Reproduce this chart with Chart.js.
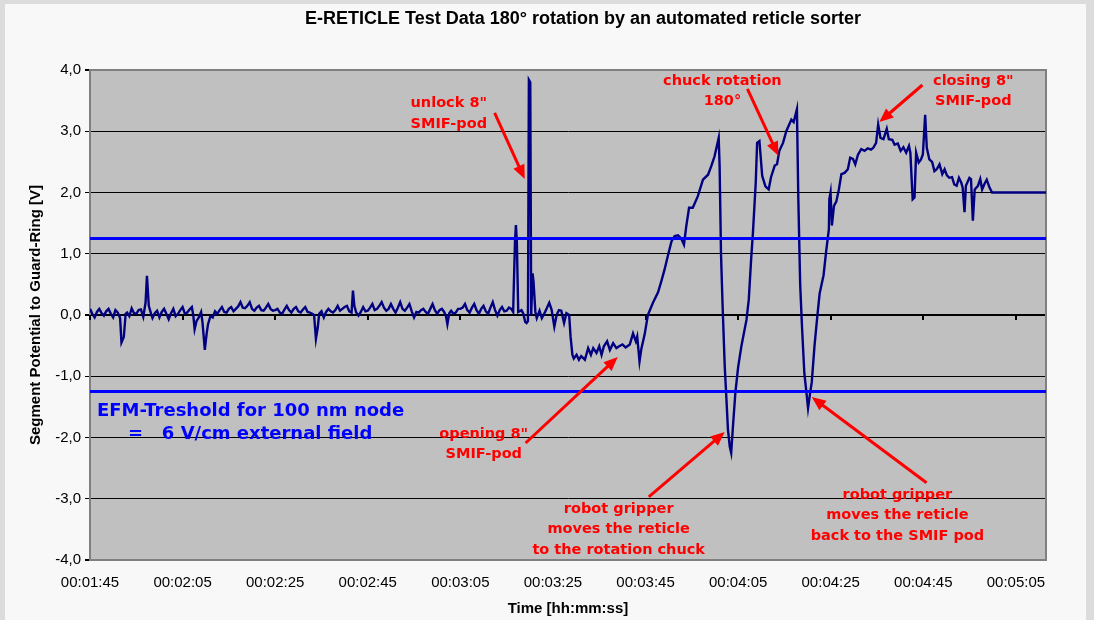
<!DOCTYPE html>
<html><head><meta charset="utf-8">
<script src="https://cdn.jsdelivr.net/npm/chart.js@4.4.1/dist/chart.umd.min.js"></script>
<style>
html,body{margin:0;padding:0;background:#dcdcdc;overflow:hidden;}
#panel{position:absolute;left:5px;top:4px;width:1081px;height:616px;background:#f8f8f8;}
#wrap{position:absolute;left:0;top:0;width:1094px;height:620px;}
</style></head><body>
<div id="panel"></div>
<div id="wrap"><canvas id="c" width="1094" height="620"></canvas></div>
<script>
// ---- data (time in seconds since 00:00:00, potential in V) ----
const timesSec = [
105.0,105.5,106.0,106.5,107.0,107.5,108.0,108.5,109.0,109.5,110.0,110.5,111.0,111.5,111.8,112.3,112.7,113.0,113.5,114.0,
114.5,115.0,115.5,116.0,116.5,117.0,117.3,117.7,118.2,118.5,119.0,119.5,120.0,120.5,121.0,121.5,122.0,122.5,123.0,123.5,
124.0,124.5,125.0,125.5,126.0,126.5,127.0,127.3,127.6,128.0,128.5,129.0,129.3,129.8,130.2,130.5,131.0,131.5,132.0,132.5,
133.0,133.5,134.0,134.5,135.0,135.5,136.0,136.5,137.0,137.5,138.0,138.5,139.0,139.5,140.0,140.5,141.0,141.5,142.0,142.5,
143.0,143.5,144.0,144.5,145.0,145.5,146.0,146.5,147.0,147.5,148.0,148.5,149.0,149.5,150.0,150.5,151.0,151.5,152.0,152.5,
153.0,153.4,153.8,154.2,154.5,155.0,155.5,156.0,156.5,157.0,157.5,158.0,158.5,159.0,159.5,160.0,160.5,161.0,161.5,161.8,
162.1,162.5,163.0,163.5,164.0,164.5,165.0,165.5,166.0,166.5,167.0,167.5,168.0,168.5,169.0,169.5,170.0,170.5,171.0,171.5,
172.0,172.5,173.0,173.5,174.0,174.5,175.0,175.5,176.0,176.5,177.0,177.5,178.0,178.5,179.0,179.5,180.0,180.5,181.0,181.5,
181.9,182.2,182.6,183.0,183.5,184.0,184.5,185.0,185.5,186.0,186.5,187.0,187.5,188.0,188.5,189.0,189.5,190.0,190.5,191.0,
191.5,192.0,192.5,193.0,193.5,194.0,194.5,195.0,195.5,196.0,196.4,196.8,197.0,197.2,197.5,198.2,198.6,199.0,199.3,199.6,
199.8,200.1,200.3,200.6,200.8,201.2,201.5,202.1,202.6,203.3,204.2,204.7,205.3,205.8,206.3,206.8,207.4,207.9,208.5,208.8,
209.2,209.5,210.1,210.6,211.1,211.9,212.6,213.2,213.7,214.4,215.0,215.5,216.0,216.7,217.3,218.0,218.7,219.3,220.0,220.7,
221.6,222.3,222.9,223.2,223.7,224.1,224.8,225.5,226.6,227.7,228.4,229.1,229.8,230.6,231.3,232.0,232.7,233.3,233.8,234.4,
235.2,236.3,237.4,238.5,239.2,239.9,240.8,241.0,241.3,241.6,242.1,242.4,242.8,243.2,243.5,243.9,244.4,245.0,245.7,246.8,
247.3,247.8,248.2,248.8,249.1,249.6,250.2,250.9,251.6,252.1,252.9,253.4,253.9,254.7,255.4,256.5,257.0,257.7,258.0,258.4,
258.8,259.3,259.8,260.1,260.5,260.9,261.5,262.0,262.6,263.45,264.0,264.6,264.7,264.96,265.25,265.7,266.2,266.76,267.3,268.0,
268.7,269.2,269.8,270.3,270.9,271.6,272.3,273.0,273.7,274.2,274.8,275.25,275.75,276.4,277.1,277.55,278.3,278.8,279.5,280.1,
280.7,281.3,281.9,282.2,282.7,283.1,283.45,284.0,284.5,284.9,285.4,285.75,286.3,286.9,287.4,287.9,288.5,289.1,289.6,290.1,
290.6,291.2,291.7,292.2,292.7,293.2,293.5,293.9,294.2,294.96,295.3,295.7,296.1,296.8,297.3,297.7,298.2,298.7,299.3,299.85,
305.0,311.5
];
const potentialV = [
0.10,0.02,-0.04,0.05,0.10,0.03,-0.01,0.06,0.10,0.02,-0.04,0.08,0.04,-0.05,-0.45,-0.36,0.02,0.04,-0.02,0.11,
0.03,0.02,0.08,0.09,-0.03,0.20,0.64,0.15,0.02,-0.05,0.03,0.07,-0.04,0.05,0.10,0.02,-0.07,0.03,0.10,-0.02,
0.02,0.08,0.13,0.02,0.04,0.09,0.13,0.00,-0.23,-0.10,-0.04,0.05,-0.12,-0.57,-0.30,-0.15,-0.02,-0.04,0.06,0.02,
0.08,0.13,0.05,0.04,0.10,0.13,0.06,0.10,0.14,0.21,0.12,0.11,0.15,0.21,0.10,0.07,0.12,0.15,0.08,0.07,
0.12,0.18,0.10,0.07,0.08,0.10,0.04,0.02,0.09,0.15,0.08,0.04,0.10,0.13,0.06,0.04,0.09,0.13,0.05,0.04,
0.02,0.00,-0.39,-0.20,0.02,0.06,-0.04,0.05,0.10,0.06,0.04,0.08,0.15,0.07,0.10,0.13,0.15,0.06,0.04,0.40,
0.15,0.04,-0.01,0.05,0.13,0.06,0.07,0.12,0.18,0.08,0.10,0.15,0.21,0.12,0.07,0.10,0.18,0.10,0.04,0.12,
0.21,0.10,0.07,0.12,0.18,0.06,-0.04,0.05,0.04,0.08,0.10,0.05,0.02,0.10,0.18,0.08,0.02,0.08,0.10,0.05,
-0.02,-0.15,0.03,0.07,0.02,0.04,0.10,0.10,0.12,0.18,0.08,0.04,0.12,0.18,0.08,0.02,0.10,0.15,0.06,0.02,
0.12,0.21,0.08,-0.01,0.08,0.13,0.06,0.07,0.12,0.10,0.05,1.20,1.47,1.20,0.05,0.08,0.02,-0.11,-0.13,-0.10,
3.84,3.80,0.00,0.68,0.55,0.05,-0.05,0.07,-0.05,0.05,0.20,0.09,-0.19,0.00,0.08,0.07,-0.13,0.03,0.00,-0.35,
-0.65,-0.71,-0.65,-0.73,-0.67,-0.73,-0.54,-0.65,-0.54,-0.62,-0.51,-0.65,-0.51,-0.43,-0.57,-0.46,-0.54,-0.51,-0.48,-0.53,
-0.48,-0.30,-0.43,-0.35,-0.76,-0.55,-0.32,0.00,0.20,0.37,0.55,0.74,0.96,1.20,1.29,1.30,1.25,1.15,1.45,1.75,
1.75,1.94,2.21,2.29,2.43,2.59,2.89,2.43,1.00,0.25,-0.83,-1.27,-1.87,-2.15,-2.25,-1.80,-1.27,-0.85,-0.51,-0.08,
0.25,0.90,1.35,2.16,2.81,2.84,2.27,2.10,2.05,2.25,2.44,2.46,2.68,2.81,3.00,3.19,3.15,3.36,1.90,0.50,
-0.20,-0.95,-1.30,-1.52,-1.30,-1.10,-0.50,-0.10,0.35,0.65,1.03,1.40,1.89,2.00,1.46,1.78,1.85,2.05,2.30,2.32,
2.38,2.57,2.55,2.46,2.62,2.71,2.68,2.72,2.70,2.73,2.81,3.11,2.89,2.87,3.04,2.87,2.86,2.78,2.80,2.68,
2.74,2.65,2.76,2.65,1.89,1.92,2.65,2.49,2.54,2.62,3.27,2.73,2.54,2.50,2.35,2.38,2.46,2.30,2.38,2.28,
2.24,2.25,2.13,2.11,2.24,2.16,2.08,1.68,2.11,2.24,2.22,1.54,2.05,2.11,2.22,2.05,2.14,2.21,2.08,2.00,
2.00,2.00
];
const thresholdV = [1.25, -1.25];
const xRangeSec = [105, 311.5];
const xTickSec = [105,125,145,165,185,205,225,245,265,285,305];
const xTickLabels = ['00:01:45','00:02:05','00:02:25','00:02:45','00:03:05','00:03:25','00:03:45','00:04:05','00:04:25','00:04:45','00:05:05'];
const yRange = [-4, 4];
const chartTitle = 'E-RETICLE Test Data 180° rotation by an automated reticle sorter';
const xTitle = 'Time [hh:mm:ss]';
const yTitle = 'Segment Potential to Guard-Ring [V]';
const thresholdNote = ['EFM-Treshold for 100 nm node', '=   6 V/cm external field'];
const thresholdNoteAt = [[106.5, -1.57], [113.2, -1.95]];
// annotation anchor points in data units (seconds, volts)
const notes = [
  {lines:['unlock 8"','SMIF-pod'], at:[182.5,3.45], from:[192.4,3.30], to:[198.9,2.22]},
  {lines:['chuck rotation','180°'], at:[241.6,3.82], from:[247.0,3.69], to:[253.7,2.60]},
  {lines:['closing 8"','SMIF-pod'], at:[295.8,3.82], from:[284.8,3.755], to:[275.5,3.15]},
  {lines:['opening 8"','SMIF-pod'], at:[190.05,-1.943], from:[199.1,-2.09], to:[219.0,-0.686]},
  {lines:['robot gripper','moves the reticle','to the rotation chuck'], at:[219.2,-3.167], from:[225.7,-2.97], to:[242.1,-1.91]},
  {lines:['robot gripper','moves the reticle','back to the SMIF pod'], at:[279.4,-2.94], from:[285.7,-2.74], to:[260.9,-1.34]}
];

const ARIAL = '"Liberation Sans", Arial, sans-serif';
const VERD = '"DejaVu Sans", Verdana, sans-serif';

const plotBg = {
  id:'plotBg',
  beforeDraw(chart){
    const {ctx, chartArea:a} = chart;
    ctx.save(); ctx.fillStyle = '#c0c0c0';
    ctx.fillRect(a.left, a.top, a.right-a.left, a.bottom-a.top);
    ctx.restore();
  }
};
const frame = {
  id:'frame',
  beforeDatasetsDraw(chart){
    const {ctx, chartArea:a, scales} = chart;
    ctx.save();
    ctx.strokeStyle = '#808080'; ctx.lineWidth = 2;
    ctx.strokeRect(a.left, a.top, a.right-a.left, a.bottom-a.top);
    const y0 = scales.y.getPixelForValue(0);
    ctx.strokeStyle = '#000'; ctx.lineWidth = 2;
    xTickSec.forEach(v => {
      const x = Math.round(scales.x.getPixelForValue(v));
      ctx.beginPath(); ctx.moveTo(x, y0); ctx.lineTo(x, y0+5); ctx.stroke();
    });
    ctx.restore();
  }
};
function arrow(ctx, x1, y1, x2, y2){
  const a = Math.atan2(y2-y1, x2-x1), hl = 14, hw = 6;
  const c = Math.cos(a), s = Math.sin(a);
  ctx.beginPath(); ctx.moveTo(x1, y1); ctx.lineTo(x2 - hl*0.8*c, y2 - hl*0.8*s); ctx.stroke();
  ctx.beginPath();
  ctx.moveTo(x2, y2);
  ctx.lineTo(x2 - hl*c + hw*s, y2 - hl*s - hw*c);
  ctx.lineTo(x2 - hl*c - hw*s, y2 - hl*s + hw*c);
  ctx.closePath(); ctx.fill();
}
const annot = {
  id:'annot',
  afterDatasetsDraw(chart){
    const {ctx, scales:{x, y}} = chart;
    ctx.save();
    ctx.fillStyle = '#ff0000'; ctx.strokeStyle = '#ff0000'; ctx.lineWidth = 3; ctx.lineCap = 'butt';
    notes.forEach(n => {
      arrow(ctx, x.getPixelForValue(n.from[0]), y.getPixelForValue(n.from[1]), x.getPixelForValue(n.to[0]), y.getPixelForValue(n.to[1]));
    });
    ctx.font = 'bold 14.5px ' + VERD; ctx.textAlign = 'center'; ctx.textBaseline = 'middle';
    notes.forEach(n => {
      const px = x.getPixelForValue(n.at[0]), py = y.getPixelForValue(n.at[1]);
      n.lines.forEach((t, i) => ctx.fillText(t, px, py + i*20.5));
    });
    ctx.fillStyle = '#0000ff'; ctx.font = 'bold 18px ' + VERD; ctx.textAlign = 'left';
    thresholdNote.forEach((t, i) => ctx.fillText(t, x.getPixelForValue(thresholdNoteAt[i][0]), y.getPixelForValue(thresholdNoteAt[i][1])));
    ctx.fillStyle = '#000'; ctx.font = 'bold 18px ' + ARIAL; ctx.textAlign = 'center';
    ctx.fillText(chartTitle, 583, 19);
    ctx.restore();
  }
};

new Chart(document.getElementById('c'), {
  type:'line',
  data:{
    datasets:[
      {data: xRangeSec.map(t => ({x:t, y:thresholdV[0]})), borderColor:'#0000ff', borderWidth:3, pointRadius:0, order:0},
      {data: xRangeSec.map(t => ({x:t, y:thresholdV[1]})), borderColor:'#0000ff', borderWidth:3, pointRadius:0, order:0},
      {data: timesSec.map((t,i) => ({x:t, y:potentialV[i]})), borderColor:'#000080', borderWidth:2.4, pointRadius:0, tension:0, order:1}
    ]
  },
  options:{
    responsive:false, animation:false, devicePixelRatio:1,
    layout:{padding:{top:70, right:48, left:0, bottom:0}},
    plugins:{legend:{display:false}, tooltip:{enabled:false}, title:{display:false}},
    scales:{
      x:{
        type:'linear', min:xRangeSec[0], max:xRangeSec[1],
        afterBuildTicks: s => { s.ticks = xTickSec.map(v => ({value:v})); },
        afterFit: s => { s.height = 60; s.paddingLeft = 0; s.paddingRight = 0; },
        grid:{display:false, drawTicks:false},
        border:{display:true, color:'#808080', width:2},
        ticks:{autoSkip:false, maxRotation:0, padding:14, color:'#000', font:{family:ARIAL, size:15},
          callback: v => { const i = xTickSec.indexOf(v); return i >= 0 ? xTickLabels[i] : ''; }},
        title:{display:true, text:xTitle, color:'#000', font:{family:ARIAL, size:15, weight:'bold'}, padding:{top:0, bottom:2}}
      },
      y:{
        min:yRange[0], max:yRange[1],
        afterFit: s => { s.width = 90; s.paddingTop = 0; s.paddingBottom = 0; },
        ticks:{stepSize:1, padding:4, color:'#000', font:{family:ARIAL, size:15},
          callback: v => Number(v).toFixed(1).replace('.', ',')},
        grid:{
          color: c => (c.tick && Math.abs(c.tick.value) === 4) ? '#808080' : '#000',
          lineWidth: c => (c.tick && (c.tick.value === 0 || Math.abs(c.tick.value) === 4)) ? 2 : 1,
          tickColor:'#000', tickLength:5, drawTicks:true
        },
        border:{color:'#808080', width:2},
        title:{display:true, text:yTitle, color:'#000', font:{family:ARIAL, size:15, weight:'bold'}, padding:{top:27, bottom:0}}
      }
    }
  },
  plugins:[plotBg, frame, annot]
});
</script>
</body></html>
